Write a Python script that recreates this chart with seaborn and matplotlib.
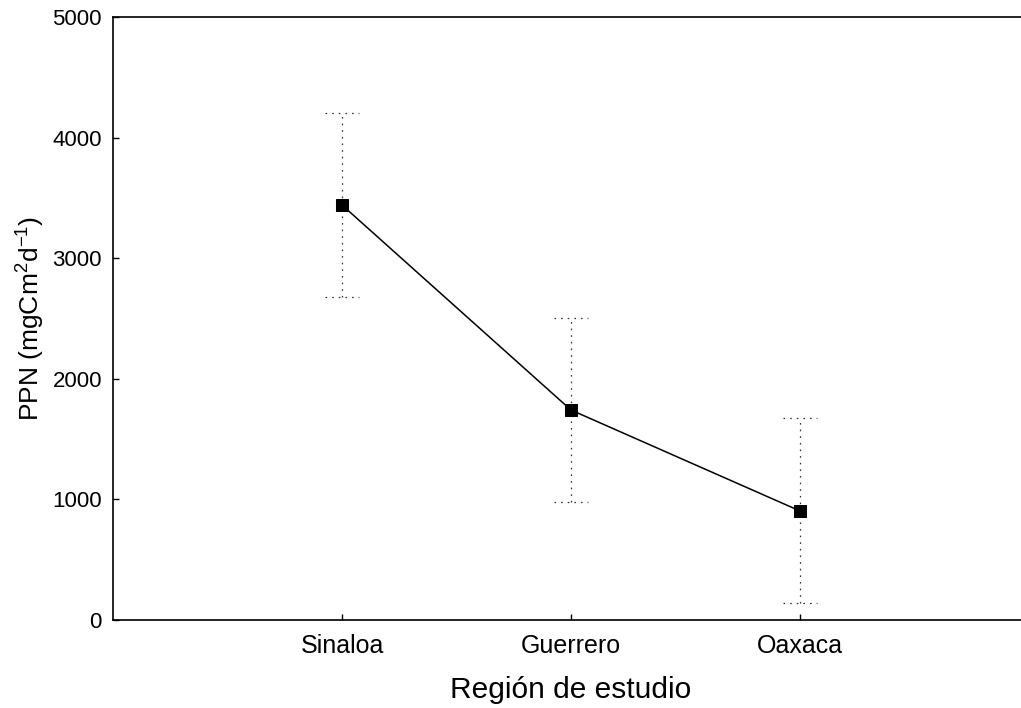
import matplotlib
matplotlib.use("Agg")
import matplotlib.pyplot as plt
import seaborn as sns
import pandas as pd

regions = ["Sinaloa", "Guerrero", "Oaxaca"]
ppn_mean = [3441, 1741, 904]
ppn_upper = [4204, 2504, 1675]
ppn_lower = [2678, 978, 141]
y_ticks = [0, 1000, 2000, 3000, 4000, 5000]

sns.set_theme(style="white")
plt.rcParams["font.family"] = ["Liberation Sans", "DejaVu Sans"]
plt.rcParams["mathtext.fontset"] = "custom"
plt.rcParams["mathtext.rm"] = "Liberation Sans"
plt.rcParams["mathtext.it"] = "Liberation Sans"
plt.rcParams["mathtext.default"] = "regular"

fig = plt.figure(figsize=(10.21, 7.08), dpi=100)
ax = fig.add_axes([113/1021, 88/708, 916/1021, 603/708])

xpos = list(range(len(regions)))
df = pd.DataFrame({"x": xpos, "y": ppn_mean})

# dotted error bars with dotted caps
dot = (0, (1.3, 4.0))
ax.vlines(xpos, ppn_lower, ppn_upper, colors="#333333", linewidth=0.9, linestyles=[dot])
cap = 0.075
ax.hlines(ppn_upper, [x - cap for x in xpos], [x + cap for x in xpos],
          colors="#333333", linewidth=0.9, linestyles=[dot])
ax.hlines(ppn_lower, [x - cap for x in xpos], [x + cap for x in xpos],
          colors="#333333", linewidth=0.9, linestyles=[dot])

sns.lineplot(data=df, x="x", y="y", ax=ax, color="black", linewidth=1.1,
             marker="s", markersize=8, markeredgecolor="black", markerfacecolor="black")

ax.set_xlim(-1, 3)
ax.set_ylim(0, 5000)
ax.set_xticks(xpos)
ax.set_xticklabels(regions)
ax.set_yticks(y_ticks)
ax.set_yticklabels([str(t) for t in y_ticks])

for s in ["left", "top", "bottom"]:
    ax.spines[s].set_visible(True)
    ax.spines[s].set_color("black")
    ax.spines[s].set_linewidth(1.2)
ax.spines["right"].set_visible(False)

ax.tick_params(axis="both", direction="in", length=4, width=1, colors="black",
               bottom=True, left=True, top=False, right=False)
ax.tick_params(axis="x", labelsize=18, pad=10)
ax.tick_params(axis="y", labelsize=16, pad=8)
ax.grid(False)

ax.set_xlabel("Región de estudio", fontsize=21.5, color="black", labelpad=13)
ax.set_ylabel("PPN (mgCm$^{2}$d$^{-1}$)", fontsize=19, color="black", labelpad=4)

fig.savefig("out.png", dpi=100)
